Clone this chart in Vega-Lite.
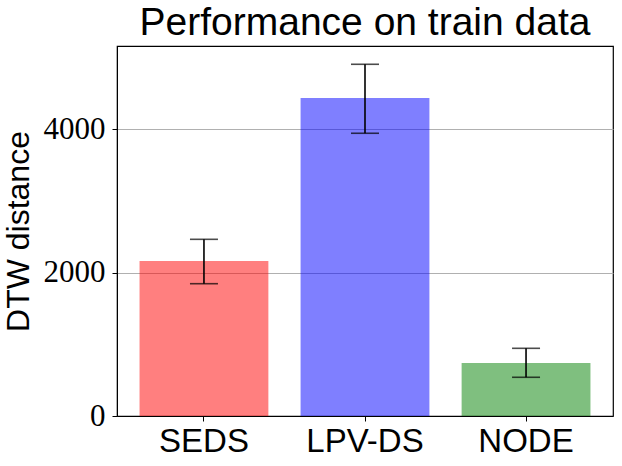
{
  "$schema": "https://vega.github.io/schema/vega-lite/v6.json",
  "width": 496,
  "height": 370,
  "autosize": "none",
  "padding": { "left": 117, "top": 46, "right": 9, "bottom": 50 },
  "title": {
    "text": "Performance on train data",
    "font": "Liberation Sans",
    "fontSize": 39,
    "fontWeight": "normal",
    "color": "black",
    "offset": 3
  },
  "data": {
    "values": [
      { "method": "SEDS", "dtw": 2162, "lo": 1845, "hi": 2464, "col": "red" },
      { "method": "LPV-DS", "dtw": 4435, "lo": 3943, "hi": 4905, "col": "blue" },
      { "method": "NODE", "dtw": 739, "lo": 540, "hi": 944, "col": "green" }
    ]
  },
  "config": {
    "view": { "stroke": "black", "strokeWidth": 1.2 },
    "axis": {
      "domainColor": "black",
      "tickColor": "black",
      "labelColor": "black",
      "titleColor": "black",
      "tickSize": 5,
      "tickWidth": 1
    }
  },
  "encoding": {
    "x": {
      "field": "method",
      "type": "nominal",
      "sort": null,
      "title": null,
      "scale": { "paddingInner": 0.2, "paddingOuter": 0.14 },
      "axis": {
        "labelAngle": 0,
        "labelFont": "Liberation Sans",
        "labelFontSize": 33,
        "labelPadding": 4,
        "grid": false
      }
    }
  },
  "layer": [
    {
      "mark": { "type": "bar", "opacity": 0.5 },
      "encoding": {
        "y": {
          "field": "dtw",
          "type": "quantitative",
          "title": "DTW distance",
          "scale": { "domain": [0, 5160], "nice": false },
          "axis": {
            "values": [0, 2000, 4000],
            "format": "d",
            "labelFont": "Liberation Serif",
            "labelFontSize": 31,
            "labelPadding": 7,
            "grid": true,
            "gridColor": "#b0b0b0",
            "gridWidth": 1,
            "titleFont": "Liberation Sans",
            "titleFontSize": 32,
            "titleFontWeight": "normal",
            "titlePadding": 8
          }
        },
        "color": {
          "field": "col",
          "type": "nominal",
          "scale": { "domain": ["red", "blue", "green"], "range": ["#ff0000", "#0000ff", "#008000"] },
          "legend": null
        }
      }
    },
    {
      "mark": { "type": "rule", "color": "black", "strokeWidth": 1.6 },
      "encoding": {
        "y": { "field": "lo", "type": "quantitative" },
        "y2": { "field": "hi" }
      }
    },
    {
      "mark": { "type": "tick", "color": "black", "size": 28, "thickness": 1.6 },
      "encoding": {
        "y": { "field": "lo", "type": "quantitative" }
      }
    },
    {
      "mark": { "type": "tick", "color": "black", "size": 28, "thickness": 1.6 },
      "encoding": {
        "y": { "field": "hi", "type": "quantitative" }
      }
    }
  ]
}
